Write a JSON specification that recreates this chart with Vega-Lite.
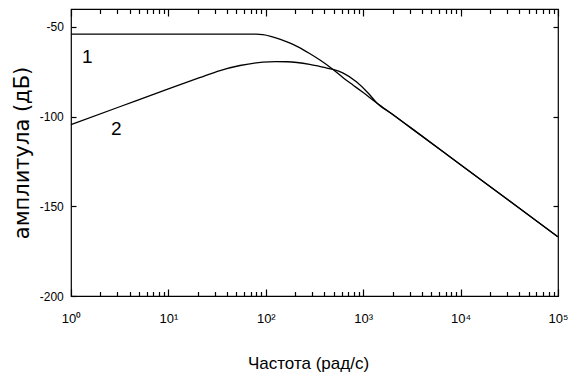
{
  "$schema": "https://vega.github.io/schema/vega-lite/v6.json",
  "autosize": {"type": "none"},
  "padding": {"left": 71, "top": 9, "right": 16, "bottom": 78},
  "width": 487,
  "height": 287,
  "background": "white",
  "datasets": {
    "curves": [
      {"curve": "1", "freq": 1, "amp": -54},
      {"curve": "1", "freq": 79.43, "amp": -54},
      {"curve": "1", "freq": 93.33, "amp": -54.3},
      {"curve": "1", "freq": 112.2, "amp": -55.2},
      {"curve": "1", "freq": 141.3, "amp": -56.9},
      {"curve": "1", "freq": 177.8, "amp": -59},
      {"curve": "1", "freq": 208.9, "amp": -60.8},
      {"curve": "1", "freq": 281.8, "amp": -64.8},
      {"curve": "1", "freq": 363.1, "amp": -68.6},
      {"curve": "1", "freq": 489.8, "amp": -73.7},
      {"curve": "1", "freq": 631, "amp": -78.6},
      {"curve": "1", "freq": 794.3, "amp": -82.6},
      {"curve": "1", "freq": 1000, "amp": -86.6},
      {"curve": "1", "freq": 1380, "amp": -92.4},
      {"curve": "1", "freq": 1995, "amp": -98.7},
      {"curve": "1", "freq": 3162, "amp": -106.7},
      {"curve": "1", "freq": 10000, "amp": -126.8},
      {"curve": "1", "freq": 31623, "amp": -146.9},
      {"curve": "1", "freq": 100000, "amp": -167},
      {"curve": "2", "freq": 1, "amp": -104.5},
      {"curve": "2", "freq": 3.162, "amp": -94.5},
      {"curve": "2", "freq": 10, "amp": -84.5},
      {"curve": "2", "freq": 20.89, "amp": -78.3},
      {"curve": "2", "freq": 33.88, "amp": -74.3},
      {"curve": "2", "freq": 54.33, "amp": -71.5},
      {"curve": "2", "freq": 93.33, "amp": -69.6},
      {"curve": "2", "freq": 125.9, "amp": -69.3},
      {"curve": "2", "freq": 166, "amp": -69.4},
      {"curve": "2", "freq": 281.8, "amp": -70.9},
      {"curve": "2", "freq": 398.1, "amp": -72.6},
      {"curve": "2", "freq": 489.8, "amp": -73.7},
      {"curve": "2", "freq": 616.6, "amp": -75.6},
      {"curve": "2", "freq": 851.1, "amp": -80.6},
      {"curve": "2", "freq": 1122, "amp": -86.8},
      {"curve": "2", "freq": 1380, "amp": -92.4},
      {"curve": "2", "freq": 1995, "amp": -98.7},
      {"curve": "2", "freq": 3162, "amp": -106.7},
      {"curve": "2", "freq": 10000, "amp": -126.8},
      {"curve": "2", "freq": 31623, "amp": -146.9},
      {"curve": "2", "freq": 100000, "amp": -167}
    ],
    "labels": [
      {"label": "1", "freq": 1.47, "amp": -67.0},
      {"label": "2", "freq": 2.92, "amp": -106.7}
    ]
  },
  "resolve": {"axis": {"x": "independent", "y": "independent"}},
  "layer": [
    {
      "data": {"name": "curves"},
      "mark": {"type": "line", "color": "black", "strokeWidth": 1.3, "interpolate": "monotone"},
      "encoding": {
        "x": {
          "field": "freq", "type": "quantitative",
          "scale": {"type": "log", "domain": [1, 100000], "nice": false},
          "axis": {
            "orient": "bottom",
            "values": [1, 10, 100, 1000, 10000, 100000],
            "labelExpr": "'10' + ['⁰','¹','²','³','⁴','⁵'][round(log(datum.value)/LN10)]",
            "tickSize": -7,
            "labelPadding": 33,
            "labelBaseline": "alphabetic",
            "labelFlush": false,
            "labelFont": "Liberation Sans",
            "labelFontSize": 13,
            "title": "Частота (рад/с)",
            "titleFont": "Liberation Sans",
            "titleFontSize": 17,
            "titleX": 237,
            "titleY": 72,
            "titleAlign": "center",
            "titleBaseline": "alphabetic"
          }
        },
        "y": {
          "field": "amp", "type": "quantitative",
          "scale": {"domain": [-200, -40], "nice": false, "zero": false},
          "axis": {
            "orient": "left",
            "values": [-200, -150, -100, -50],
            "labelExpr": "'' + datum.value",
            "tickSize": -5,
            "labelPadding": 12.7,
            "labelFont": "Liberation Sans",
            "labelFontSize": 12,
            "title": "амплитула (дБ)",
            "titleFont": "DejaVu Sans",
            "titleFontSize": 21,
            "titleX": -49,
            "titleY": 143.5,
            "titleAngle": -90,
            "titleAlign": "center",
            "titleBaseline": "middle"
          }
        },
        "detail": {"field": "curve"}
      }
    },
    {
      "data": {"name": "labels"},
      "mark": {"type": "text", "font": "Liberation Sans", "fontSize": 19, "color": "black", "align": "center", "baseline": "middle"},
      "encoding": {
        "x": {
          "field": "freq", "type": "quantitative",
          "axis": {"orient": "top", "values": [1, 10, 100, 1000, 10000, 100000], "tickSize": -7, "labels": false, "title": null}
        },
        "y": {
          "field": "amp", "type": "quantitative",
          "axis": {"orient": "right", "values": [-150, -100, -50], "tickSize": -5, "labels": false, "title": null}
        },
        "text": {"field": "label"}
      }
    },
    {
      "data": {"name": "labels"},
      "mark": {"type": "point", "opacity": 0},
      "encoding": {
        "x": {
          "field": "freq", "type": "quantitative",
          "axis": {"orient": "bottom", "values": [2,3,4,5,6,7,8,9,20,30,40,50,60,70,80,90,200,300,400,500,600,700,800,900,2000,3000,4000,5000,6000,7000,8000,9000,20000,30000,40000,50000,60000,70000,80000,90000], "tickSize": -4.5, "labels": false, "title": null}
        },
        "y": {"field": "amp", "type": "quantitative", "axis": null}
      }
    },
    {
      "data": {"name": "labels"},
      "mark": {"type": "point", "opacity": 0},
      "encoding": {
        "x": {
          "field": "freq", "type": "quantitative",
          "axis": {"orient": "top", "values": [2,3,4,5,6,7,8,9,20,30,40,50,60,70,80,90,200,300,400,500,600,700,800,900,2000,3000,4000,5000,6000,7000,8000,9000,20000,30000,40000,50000,60000,70000,80000,90000], "tickSize": -4.5, "labels": false, "title": null}
        },
        "y": {"field": "amp", "type": "quantitative", "axis": null}
      }
    }
  ],
  "config": {
    "view": {"stroke": "black", "strokeWidth": 1.2},
    "axis": {"domain": false, "grid": false, "tickColor": "black", "tickWidth": 1.2, "labelColor": "black", "titleColor": "black", "titleFontWeight": "normal"}
  }
}
